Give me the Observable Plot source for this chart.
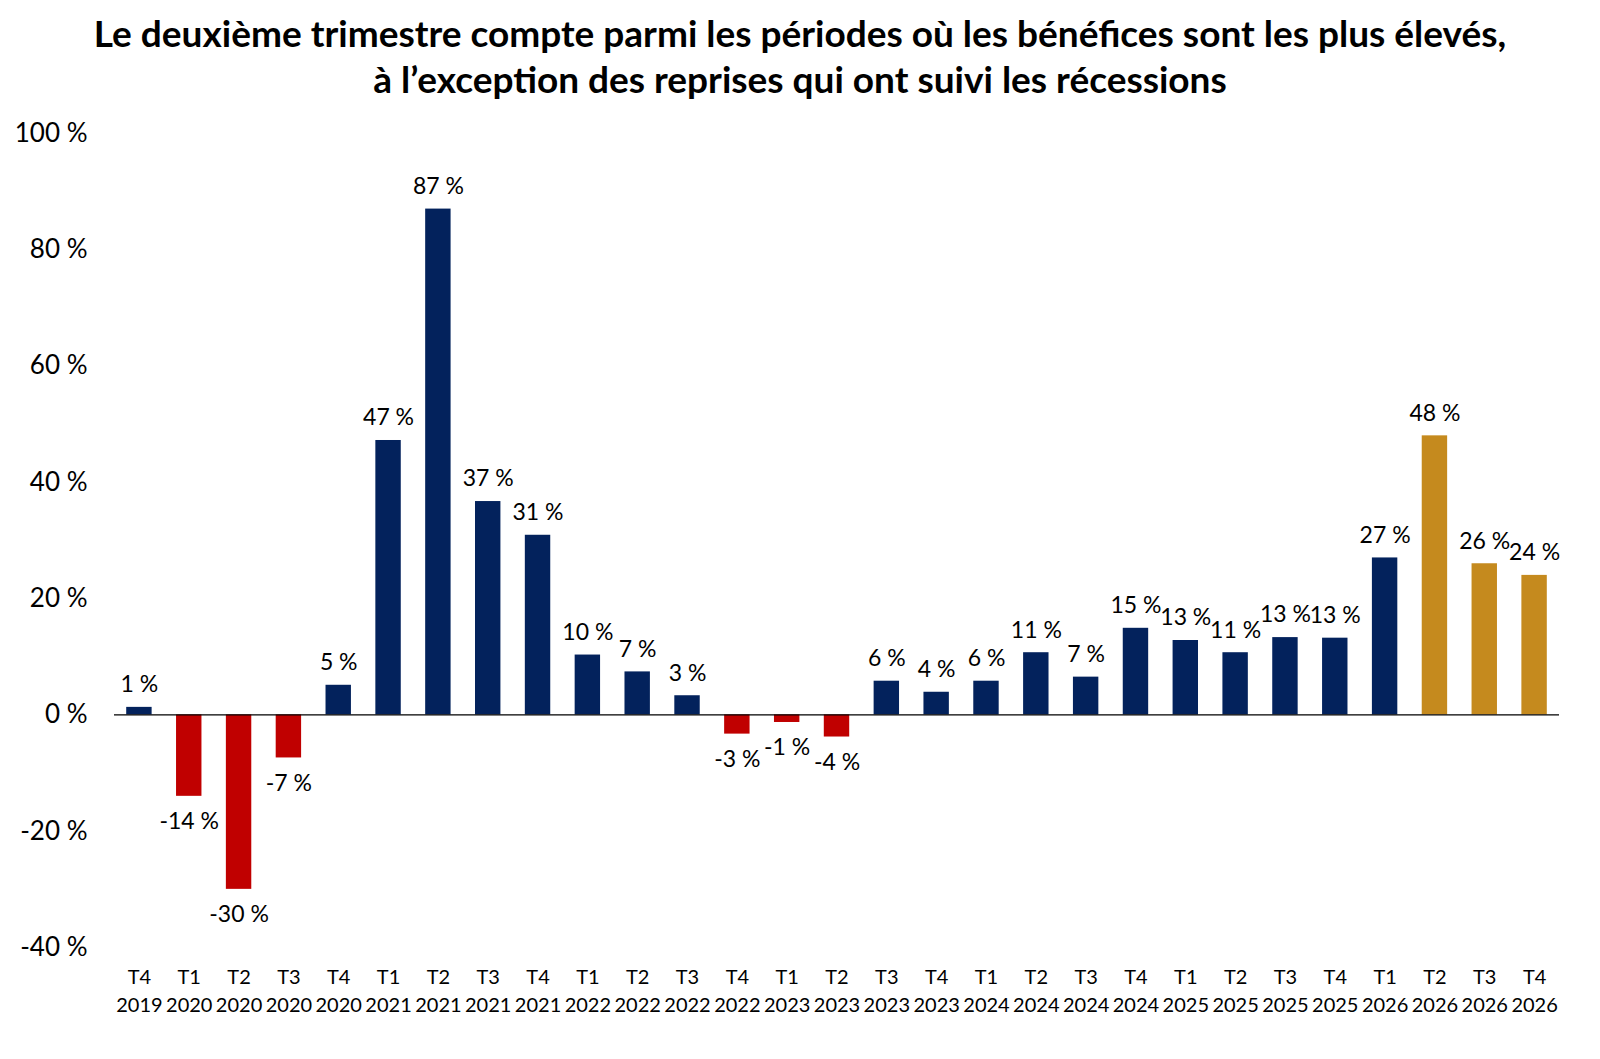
<!DOCTYPE html>
<html>
<head>
<meta charset="utf-8">
<script src="https://cdn.jsdelivr.net/npm/d3@7"></script>
<script src="https://cdn.jsdelivr.net/npm/@observablehq/plot@0.6"></script>
<style>
  html, body { margin: 0; padding: 0; background: #fff; }
  #title { width: 1600px; height: 110px; box-sizing: border-box; padding-top: 10px;
    text-align: center; font-family: Lato, sans-serif; font-weight: 700; font-size: 37px; line-height: 46px; color: #000; }
  #chart svg { display: block; }
</style>
</head>
<body>
<div id="title">Le deuxième trimestre compte parmi les périodes où les bénéfices sont les plus élevés,<br>à l’exception des reprises qui ont suivi les récessions</div>
<div id="chart"></div>
<script>
const quarters = ["T4","T1","T2","T3","T4","T1","T2","T3","T4","T1","T2","T3","T4","T1","T2","T3","T4","T1","T2","T3","T4","T1","T2","T3","T4","T1","T2","T3","T4"];
const years = ["2019","2020","2020","2020","2020","2021","2021","2021","2021","2022","2022","2022","2022","2023","2023","2023","2023","2024","2024","2024","2024","2025","2025","2025","2025","2026","2026","2026","2026"];
const values = [1.3,-14,-30,-7.4,5.1,47.2,87,36.7,30.9,10.3,7.4,3.3,-3.3,-1.3,-3.8,5.8,3.9,5.8,10.7,6.5,14.9,12.8,10.7,13.3,13.2,27,48,26,24];
const forecastFrom = "T2 2026";
const yTicks = [-40,-20,0,20,40,60,80,100];

const cats = quarters.map((q, i) => `${q} ${years[i]}`);
const forecastIndex = cats.indexOf(forecastFrom);
const data = cats.map((c, i) => ({
  cat: c, value: values[i],
  kind: values[i] < 0 ? "neg" : (i >= forecastIndex ? "prev" : "pos")
}));
const fmt = v => `${Math.round(v)} %`;

const plot = Plot.plot({
  width: 1600,
  height: 949,
  marginTop: 23,
  marginBottom: 112,
  marginLeft: 114,
  marginRight: 41,
  style: { fontFamily: "Lato, sans-serif", color: "#000", background: "#fff" },
  x: { domain: cats, paddingInner: 0.49, paddingOuter: 0.245, round: false, label: null },
  y: { domain: [-40, 100], label: null },
  color: { domain: ["pos", "neg", "prev"], range: ["#03225C", "#C00000", "#C58A1E"] },
  marks: [
    Plot.barY(data, { x: "cat", y: "value", fill: "kind" }),
    Plot.ruleY([0], { stroke: "#000", strokeWidth: 1.2 }),
    Plot.text(data.filter(d => d.value >= 0), { x: "cat", y: "value", text: d => fmt(d.value), dy: -22.5, fontSize: 23, fill: "#000" }),
    Plot.text(data.filter(d => d.value < 0), { x: "cat", y: "value", text: d => fmt(d.value), dy: 25.5, fontSize: 23, fill: "#000" }),
    Plot.axisY({ ticks: yTicks, tickFormat: d => `${d} %`, tickSize: 0, tickPadding: 27, fontSize: 26, label: null }),
    Plot.axisX({ tickFormat: d => `${quarters[cats.indexOf(d)]}\n${years[cats.indexOf(d)]}`, tickSize: 0, tickPadding: 17, fontSize: 20, lineHeight: 1.375, label: null })
  ]
});
document.getElementById("chart").appendChild(plot);
</script>
</body>
</html>
